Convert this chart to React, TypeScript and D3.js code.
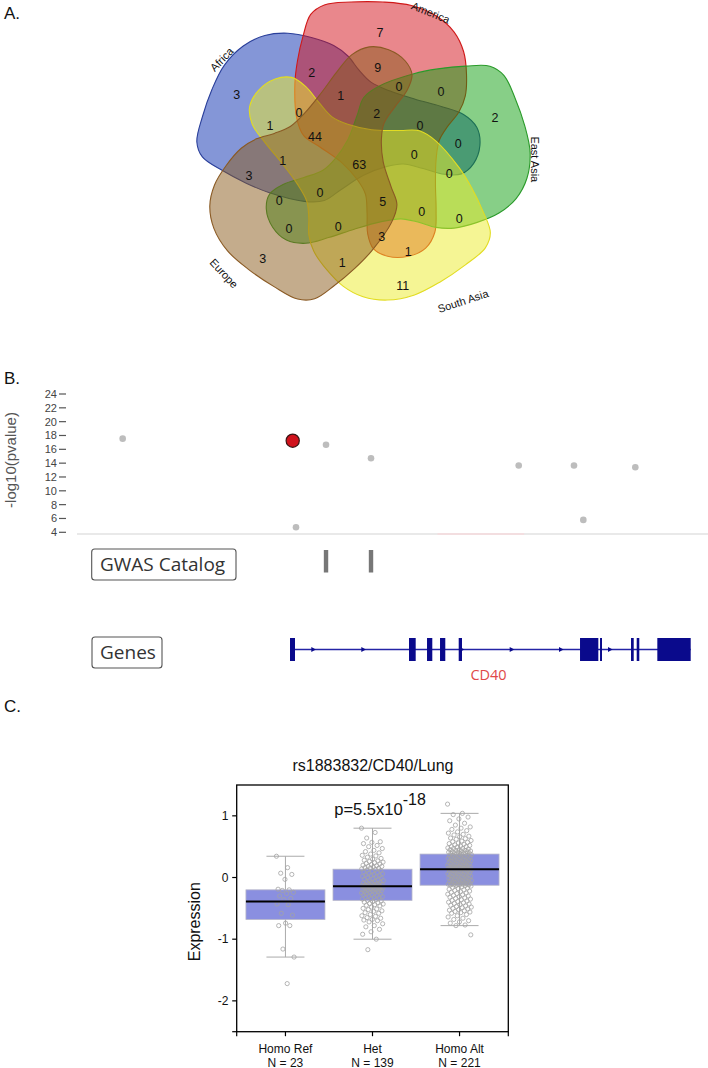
import React from 'react';
import * as d3 from 'd3';

// ================= Panel A: five-set Venn =================
const vennSets = ['Africa', 'America', 'East Asia', 'South Asia', 'Europe'];
const vennFill = ['#0a2db0', '#d40f1a', '#0f9f0f', '#ecec2a', '#8a5a1a'];
const vennStroke = ['#2a3f9a', '#d01818', '#2a9a2a', '#e2dc22', '#8a5a24'];
// counts of the 31 regions
const vennCounts = [3, 7, 2, 11, 3, 2, 9, 0, 0, 1, 0, 1, 2, 0, 44, 0, 63, 0, 1, 3, 0, 0, 5, 0, 0, 0, 0, 0, 3, 1, 1];

// ---- layout (not data) ----
const VC = { x: 362, y: 155 };
const VS = 0.95 / 3;
const VSY = 0.93; // vertical squeeze of the printed figure
// base outline of one set (America), relative to the diagram centre
const baseOutline: [number, number][] = [
  [322, 262], [330, 190], [348, 110], [372, 42], [415, 12], [500, 3], [600, 3], [690, 14], [770, 48],
  [825, 98], [855, 160], [864, 230], [860, 300], [840, 350], [805, 395], [778, 440], [768, 500],
  [766, 580], [768, 660], [764, 730], [735, 780], [680, 806], [615, 806], [570, 782], [552, 735],
  [550, 670], [545, 610], [520, 565], [470, 510], [400, 460], [350, 425], [328, 370],
].map(([x, y]) => [x - 534, (y - 486) / VSY] as [number, number]);
const setRotation = [-72, 0, 72, 144, 216];
const setShift: [number, number][] = [[0, 0], [0, 0], [0, 0], [-2, -8], [0, 2]];
const regionLabelXY: [number, number][] = [
  [236.7, 95], [380, 33.3], [495, 118.3], [402.7, 286], [262.7, 259.3], [311.7, 72.7], [377.7, 68.3],
  [399, 87.3], [441, 91.7], [340.7, 95.7], [299, 113.3], [270, 126], [376.7, 114], [420, 126],
  [315, 137.3], [458.3, 144.3], [359.3, 165], [414.3, 155], [282.7, 161], [249, 176], [449.3, 174],
  [320, 192.7], [382.7, 202.3], [279.3, 200.7], [421.7, 212.3], [459.3, 219.3], [289, 229.3],
  [338.3, 226.7], [381.7, 236.7], [408.3, 251.7], [342.3, 263.3],
];
const setLabelXY: [number, number, number][] = [
  [221.7, 59.3, -46], [430.7, 12.5, 22], [535, 159.3, 90], [463, 301, -18], [224, 273.3, 47],
];

// ================= Panel B: regional association =================
const snpPos = [44742018, 44746923, 44747018, 44747884, 44749182, 44753443, 44755038, 44755307, 44756807];
const snpLogP = [17.54, 17.25, 4.73, 16.66, 14.71, 13.65, 13.65, 5.79, 13.4];
const leadSnpIndex = 1;
const yTicksB = [4, 6, 8, 10, 12, 14, 16, 18, 20, 22, 24];
const gwasPos = [44747884, 44749182];
const geneName = 'CD40';
const geneStart = 44746845;
const geneEnd = 44758405;
const exonStart = [44746845, 44750278, 44750798, 44751173, 44751712, 44755212, 44755789, 44756683, 44756847, 44757442];
const exonEnd = [44746989, 44750471, 44750950, 44751325, 44751807, 44755740, 44755846, 44756761, 44756922, 44758405];
const strandArrows = [44747517, 44748960, 44751799, 44753241, 44754663, 44756077];
const genomeDomain = [44740700, 44758904];

// ================= Panel C: eQTL box plot =================
const genotypes = ['Homo Ref', 'Het', 'Homo Alt'];
const genotypeN = [23, 139, 221];
const boxQ1 = [-0.68, -0.37, -0.125];
const boxMedian = [-0.39, -0.14, 0.135];
const boxQ3 = [-0.2, 0.135, 0.38];
const whiskerLo = [-1.29, -1.0, -0.78];
const whiskerHi = [0.345, 0.8, 1.04];
const yTicksC = [1, 0, -1, -2];
const exprHomoRef = [0.345, 0.16, 0.07, 0.05, -0.03, -0.19, -0.2, -0.21, -0.24, -0.26, -0.3, -0.34, -0.36, -0.43, -0.44,
  -0.58, -0.61, -0.74, -0.78, -0.78, -1.16, -1.29, -1.72];
const exprHet = [0.80, 0.73, 0.64, 0.58, 0.57, 0.55, 0.52, 0.50, 0.47, 0.44, 0.42, 0.40, 0.38, 0.36, 0.35, 0.33, 0.31,
  0.30, 0.28, 0.27, 0.26, 0.25, 0.24, 0.23, 0.22, 0.21, 0.20, 0.19, 0.18, 0.18, 0.17, 0.16, 0.15, 0.15, 0.14,
  0.13, 0.12, 0.11, 0.10, 0.09, 0.08, 0.07, 0.06, 0.05, 0.04, 0.03, 0.03, 0.02, 0.01, 0.00, -0.01, -0.02, -0.03,
  -0.04, -0.05, -0.05, -0.06, -0.07, -0.08, -0.08, -0.09, -0.10, -0.10, -0.11, -0.11, -0.12, -0.12, -0.13, -0.13,
  -0.14, -0.14, -0.15, -0.15, -0.16, -0.16, -0.17, -0.17, -0.18, -0.18, -0.19, -0.19, -0.20, -0.20, -0.21, -0.21,
  -0.22, -0.23, -0.23, -0.24, -0.25, -0.25, -0.26, -0.27, -0.28, -0.28, -0.29, -0.30, -0.31, -0.32, -0.32, -0.33,
  -0.34, -0.35, -0.36, -0.37, -0.38, -0.39, -0.40, -0.41, -0.42, -0.43, -0.44, -0.45, -0.46, -0.48, -0.50, -0.51,
  -0.52, -0.54, -0.55, -0.57, -0.58, -0.60, -0.62, -0.63, -0.65, -0.66, -0.68, -0.69, -0.70, -0.72, -0.75, -0.78,
  -0.80, -0.84, -0.88, -0.92, -1.00, -1.17];
const exprHomoAlt = [1.19, 1.04, 1.02, 0.98, 0.95, 0.92, 0.88, 0.85, 0.82, 0.80, 0.78, 0.76, 0.74, 0.72, 0.70, 0.69,
  0.67, 0.66, 0.64, 0.63, 0.62, 0.60, 0.59, 0.58, 0.57, 0.56, 0.55, 0.54, 0.53, 0.52, 0.51, 0.50, 0.50, 0.49, 0.48,
  0.47, 0.47, 0.46, 0.45, 0.45, 0.44, 0.44, 0.43, 0.43, 0.42, 0.42, 0.41, 0.41, 0.40, 0.40, 0.40, 0.39, 0.39, 0.39,
  0.38, 0.37, 0.37, 0.36, 0.36, 0.35, 0.35, 0.34, 0.34, 0.33, 0.33, 0.32, 0.32, 0.31, 0.31, 0.30, 0.30, 0.29, 0.29,
  0.28, 0.28, 0.27, 0.27, 0.26, 0.26, 0.25, 0.25, 0.24, 0.24, 0.23, 0.23, 0.22, 0.22, 0.21, 0.21, 0.20, 0.20, 0.19,
  0.19, 0.18, 0.18, 0.18, 0.17, 0.17, 0.17, 0.16, 0.16, 0.16, 0.15, 0.15, 0.15, 0.14, 0.14, 0.14, 0.14, 0.13, 0.12,
  0.12, 0.11, 0.11, 0.10, 0.10, 0.09, 0.09, 0.08, 0.08, 0.07, 0.07, 0.06, 0.06, 0.05, 0.05, 0.04, 0.04, 0.03, 0.03,
  0.02, 0.02, 0.01, 0.01, 0.00, 0.00, -0.01, -0.01, -0.02, -0.02, -0.03, -0.03, -0.04, -0.04, -0.05, -0.05, -0.06,
  -0.06, -0.07, -0.07, -0.08, -0.08, -0.09, -0.09, -0.10, -0.10, -0.11, -0.11, -0.11, -0.12, -0.12, -0.12, -0.12,
  -0.13, -0.13, -0.14, -0.15, -0.16, -0.17, -0.18, -0.19, -0.20, -0.21, -0.22, -0.23, -0.24, -0.25, -0.26, -0.27,
  -0.28, -0.29, -0.30, -0.31, -0.32, -0.33, -0.34, -0.35, -0.36, -0.37, -0.38, -0.39, -0.40, -0.41, -0.42, -0.43,
  -0.44, -0.45, -0.46, -0.47, -0.48, -0.49, -0.50, -0.51, -0.52, -0.53, -0.54, -0.55, -0.56, -0.57, -0.58, -0.60,
  -0.62, -0.64, -0.66, -0.68, -0.70, -0.72, -0.74, -0.77, -0.78, -0.93];
const exprByGenotype = [exprHomoRef, exprHet, exprHomoAlt];

const FONT = "'Liberation Sans', Arial, Helvetica, sans-serif";
const FONT2 = "'Open Sans', 'Noto Sans', sans-serif";

function VennPanel() {
  const line = d3.line<[number, number]>().curve(d3.curveCatmullRomClosed.alpha(0.5));
  const shapes = vennSets.map((_, k) => {
    const a = (setRotation[k] * Math.PI) / 180;
    const pts = baseOutline.map(([x, y]) => [
      VC.x + setShift[k][0] + (x * Math.cos(a) - y * Math.sin(a)) * VS,
      VC.y + setShift[k][1] + (x * Math.sin(a) + y * Math.cos(a)) * VS * VSY,
    ] as [number, number]);
    return line(pts) as string;
  });
  return (
    <g>
      {shapes.map((d, k) => (
        <path key={k} d={d} fill={vennFill[k]} fillOpacity={0.5} stroke={vennStroke[k]} strokeWidth={1.1} />
      ))}
      {vennCounts.map((c, i) => (
        <text key={i} x={regionLabelXY[i][0]} y={regionLabelXY[i][1]} textAnchor="middle" dominantBaseline="central"
          fontSize={12.5} fill="#111">{c}</text>
      ))}
      {vennSets.map((s, k) => (
        <text key={s} transform={`translate(${setLabelXY[k][0]},${setLabelXY[k][1]}) rotate(${setLabelXY[k][2]})`}
          textAnchor="middle" dominantBaseline="central" fontSize={11} fill="#111">{s}</text>
      ))}
    </g>
  );
}

function RegionPanel() {
  const x = d3.scaleLinear().domain(genomeDomain).range([77, 708]);
  const y = d3.scaleLinear().domain([4, 24]).range([532.3, 394]);
  const geneY = 649.5;
  const order = snpPos.map((_, i) => i).filter((i) => i !== leadSnpIndex);
  return (
    <g>
      {yTicksB.map((t) => (
        <g key={t}>
          <line x1={59} x2={66} y1={y(t)} y2={y(t)} stroke="#555" strokeWidth={1.2} />
          <text x={57} y={y(t)} textAnchor="end" dominantBaseline="central" fontSize={11} fill="#444">{t}</text>
        </g>
      ))}
      <text transform={`translate(16,460) rotate(-90)`} textAnchor="middle" fontSize={15} fill="#555">-log10(pvalue)</text>
      <line x1={77} x2={708} y1={534} y2={534} stroke="#e2e2e2" strokeWidth={1.5} />
      <line x1={x(44751100)} x2={x(44753600)} y1={534} y2={534} stroke="#f6dadd" strokeWidth={1.5} />
      {order.map((i) => (
        <circle key={i} cx={x(snpPos[i])} cy={y(snpLogP[i])} r={3.3} fill="#bdbdbd" />
      ))}
      <circle cx={x(snpPos[leadSnpIndex])} cy={y(snpLogP[leadSnpIndex])} r={6.6} fill="#d0121c" stroke="#3a1414" strokeWidth={1.2} />

      <rect x={91.7} y={549} width={144.3} height={31} rx={3} fill="#fff" stroke="#555" strokeWidth={1.1} />
      <text x={100} y={571} fontFamily={FONT2} fontSize={19} fill="#333">GWAS Catalog</text>
      {gwasPos.map((p) => (
        <rect key={p} x={x(p) - 2.2} y={550} width={4.4} height={22.5} fill="#777" />
      ))}

      <rect x={92} y={637} width={70} height={31} rx={3} fill="#fff" stroke="#555" strokeWidth={1.1} />
      <text x={100} y={659} fontFamily={FONT2} fontSize={19} fill="#333">Genes</text>
      <line x1={x(geneStart)} x2={x(geneEnd)} y1={geneY} y2={geneY} stroke="#2424a6" strokeWidth={1.6} />
      {exonStart.map((s, i) => (
        <rect key={i} x={x(s)} y={638} width={Math.max(1.6, x(exonEnd[i]) - x(s))} height={23} fill="#0a0a8c" />
      ))}
      {strandArrows.map((p) => (
        <path key={p} d={`M${x(p) - 2},${geneY - 2.6} L${x(p) + 2.6},${geneY} L${x(p) - 2},${geneY + 2.6} Z`} fill="#0a0a8c" />
      ))}
      <text x={488.5} y={680} textAnchor="middle" fontFamily={FONT2} fontSize={14.5} fill="#e04848">{geneName}</text>
    </g>
  );
}

function BoxPanel() {
  const L = 236.7, R = 508.3, T = 785, B = 1031.7;
  const y = d3.scaleLinear().domain([-2.5, 1.5]).range([B, T]);
  const x = d3.scalePoint<string>().domain(genotypes).range([L, R]).padding(0.56);
  const bw = 79;
  const jitterHalf = [9, 11, 12];
  const jitter = (i: number, h: number) => (((i * 0.6180339887) % 1) - 0.5) * 2 * h;
  return (
    <g>
      <text x={373} y={771} textAnchor="middle" fontSize={16} fill="#111">rs1883832/CD40/Lung</text>
      {genotypes.map((g, k) => {
        const cx = x(g) as number;
        return (
          <g key={g}>
            <line x1={cx} x2={cx} y1={y(whiskerLo[k])} y2={y(whiskerHi[k])} stroke="#aaa" strokeWidth={1} />
            <line x1={cx - 19} x2={cx + 19} y1={y(whiskerLo[k])} y2={y(whiskerLo[k])} stroke="#aaa" strokeWidth={1} />
            <line x1={cx - 19} x2={cx + 19} y1={y(whiskerHi[k])} y2={y(whiskerHi[k])} stroke="#aaa" strokeWidth={1} />
            <rect x={cx - bw / 2} y={y(boxQ3[k])} width={bw} height={y(boxQ1[k]) - y(boxQ3[k])} fill="#8a8fe0" stroke="#b4b4c8" strokeWidth={0.8} />
            {exprByGenotype[k].map((v, i) => (
              <circle key={i} cx={cx + jitter(i, jitterHalf[k])} cy={y(v)} r={2.1} fill="none" stroke="#a3a3a3" strokeWidth={0.8} />
            ))}
            <line x1={cx - bw / 2} x2={cx + bw / 2} y1={y(boxMedian[k])} y2={y(boxMedian[k])} stroke="#000" strokeWidth={2} />
            <line x1={cx} x2={cx} y1={B} y2={B + 4.5} stroke="#000" strokeWidth={1.2} />
            <text x={cx} y={1053} textAnchor="middle" fontSize={12} fill="#111">{g}</text>
            <text x={cx} y={1066.5} textAnchor="middle" fontSize={12} fill="#111">{`N = ${genotypeN[k]}`}</text>
          </g>
        );
      })}
      <rect x={L} y={T} width={R - L} height={B - T} fill="none" stroke="#000" strokeWidth={1.3} />
      <line x1={L} x2={L} y1={B} y2={B + 4.5} stroke="#000" strokeWidth={1.2} />
      <line x1={R} x2={R} y1={B} y2={B + 4.5} stroke="#000" strokeWidth={1.2} />
      {yTicksC.map((t) => (
        <g key={t}>
          <line x1={L - 4.5} x2={L} y1={y(t)} y2={y(t)} stroke="#000" strokeWidth={1.2} />
          <text x={228.5} y={y(t)} textAnchor="end" dominantBaseline="central" fontSize={12} fill="#111">{t}</text>
        </g>
      ))}
      <line x1={L - 4.5} x2={L} y1={B} y2={B} stroke="#000" strokeWidth={1.2} />
      <text transform="translate(200,921.7) rotate(-90)" textAnchor="middle" fontSize={16} fill="#111">Expression</text>
      <text x={334.3} y={815} fontSize={16.5} fill="#111">p=5.5x10<tspan dy={-10} fontSize={16}>-18</tspan></text>
    </g>
  );
}

export default function App() {
  return (
    <svg width={708} height={1068} viewBox="0 0 708 1068" fontFamily={FONT}
      style={{ position: 'absolute', left: 0, top: 0, display: 'block', background: '#fff' }}>
      <rect width={708} height={1068} fill="#fff" />
      <text x={4} y={19} fontSize={17} fill="#111">A.</text>
      <text x={4} y={384} fontSize={17} fill="#111">B.</text>
      <text x={4} y={712} fontSize={17} fill="#111">C.</text>
      <VennPanel />
      <RegionPanel />
      <BoxPanel />
    </svg>
  );
}
